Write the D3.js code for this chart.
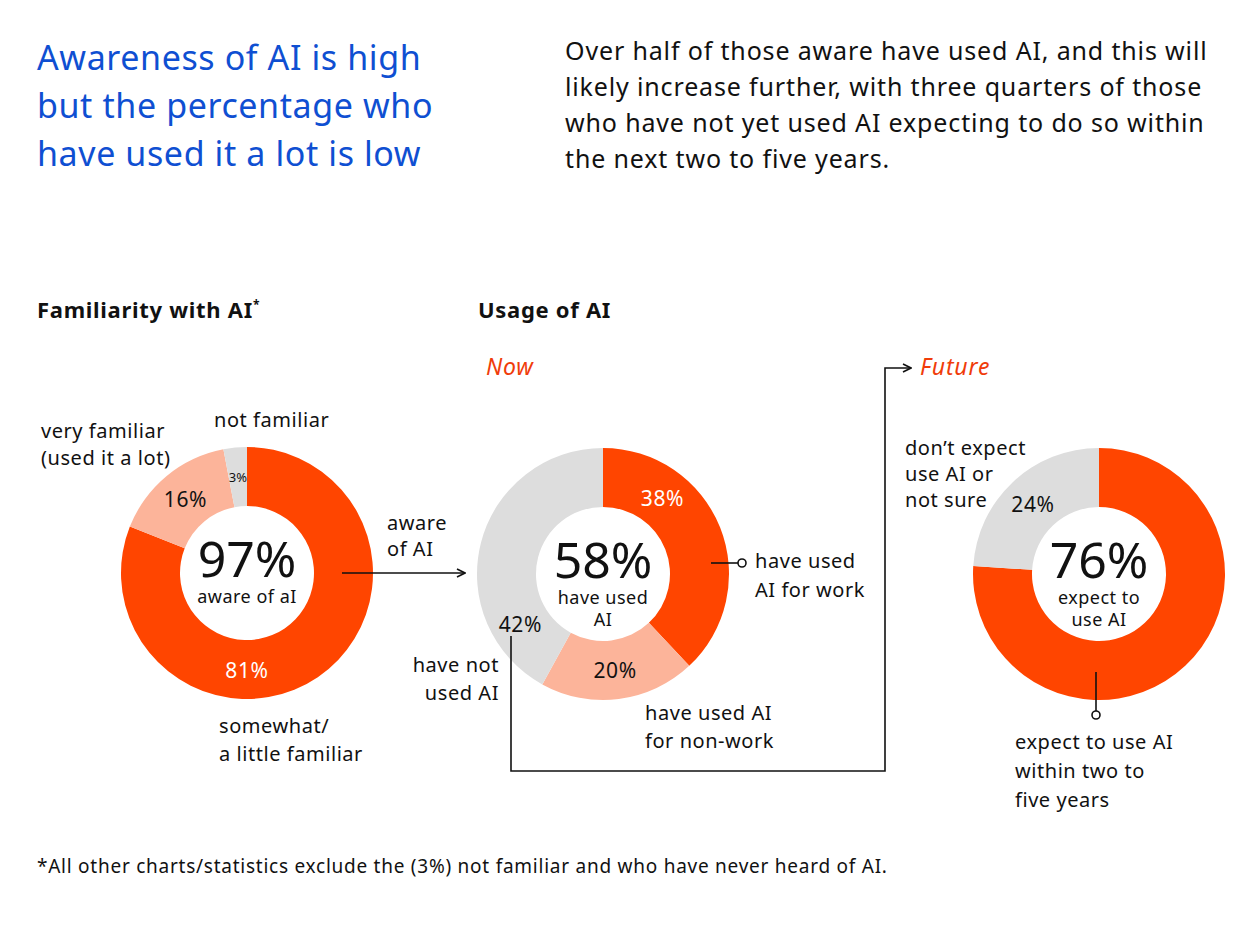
<!DOCTYPE html>
<html><head><meta charset="utf-8">
<script src="https://cdn.jsdelivr.net/npm/d3@7"></script>
<style>
html,body{margin:0;padding:0;background:#fff;}
svg{display:block;font-family:"Noto Sans",sans-serif;}
</style></head>
<body><svg id="c" width="1260" height="946"></svg>
<script>
// ---- data ----
const familiarityCategories = ["somewhat/a little familiar", "very familiar", "not familiar"];
const familiarityValues = [81, 16, 3];
const usageCategories = ["have used AI for work", "have used AI for non-work", "have not used AI"];
const usageValues = [38, 20, 42];
const futureCategories = ["expect to use AI", "don't expect use AI or not sure"];
const futureValues = [76, 24];

const titleLines = ["Awareness of AI is high", "but the percentage who", "have used it a lot is low"];
const introLines = ["Over half of those aware have used AI, and this will",
  "likely increase further, with three quarters of those",
  "who have not yet used AI expecting to do so within",
  "the next two to five years."];
const footnote = "*All other charts/statistics exclude the (3%) not familiar and who have never heard of AI.";

const RED = "#ff4500", SALMON = "#fcb49a", GREY = "#dddddd", BLUE = "#0f4fd2";

const svg = d3.select("#c");
const defs = svg.append("defs");
defs.append("marker").attr("id","arr").attr("viewBox","0 0 10 10").attr("refX",9).attr("refY",5)
  .attr("markerWidth",10).attr("markerHeight",10).attr("markerUnits","userSpaceOnUse").attr("orient","auto")
  .append("path").attr("d","M1,1 L9,5 L1,9").attr("fill","none").attr("stroke","#111").attr("stroke-width",1.6);

// titles
svg.append("text").attr("x",37).attr("y",70).attr("fill",BLUE).attr("font-size",34).attr("letter-spacing",0.6)
  .selectAll("tspan").data(titleLines).join("tspan").attr("x",37).attr("dy",(d,i)=>i?48:0).text(d=>d);
svg.append("text").attr("x",565).attr("y",60).attr("fill","#111").attr("font-size",25).attr("letter-spacing",0.85)
  .selectAll("tspan").data(introLines).join("tspan").attr("x",565).attr("dy",(d,i)=>i?36:0).text(d=>d);

const head = (x,y,t)=>svg.append("text").attr("x",x).attr("y",y).attr("font-size",22).attr("letter-spacing",0.7).attr("font-weight","bold").attr("fill","#111").text(t);
head(37,318,"Familiarity with AI").append("tspan").attr("dy",-9).attr("font-size",12).text("*");
head(478,318,"Usage of AI");
svg.append("text").attr("x",486).attr("y",375).attr("font-size",23).attr("letter-spacing",0.8).attr("font-style","italic").attr("fill","#f03c0a").text("Now");
svg.append("text").attr("x",920).attr("y",375).attr("font-size",23).attr("letter-spacing",0.8).attr("font-style","italic").attr("fill","#f03c0a").text("Future");

const R = 126, r = 67;
const pie = d3.pie().sort(null).value(d=>d);
const arc = d3.arc().innerRadius(r).outerRadius(R);

function donut(cx, cy, values, colors, labels, big, subLines) {
  const g = svg.append("g").attr("transform",`translate(${cx},${cy})`);
  const arcs = pie(values);
  g.selectAll("path").data(arcs).join("path").attr("d",arc).attr("fill",(d,i)=>colors[i]);
  const mid = (R + r) / 2;
  g.selectAll("text.pct").data(arcs.filter((d,i)=>labels[i])).join("text").attr("class","pct")
    .each(function(d){
      const L = labels[d.index];
      const a = (L.angle != null ? L.angle : (d.startAngle + d.endAngle)/2*180/Math.PI) * Math.PI/180;
      d3.select(this).attr("x", mid*Math.sin(a)).attr("y", -mid*Math.cos(a))
        .attr("text-anchor","middle").attr("dominant-baseline","central")
        .attr("font-size", L.size || 21).attr("letter-spacing", L.size ? 0 : 0.6).attr("fill", L.color)
        .text(values[d.index] + "%");
    });
  g.append("text").attr("text-anchor","middle").attr("y",4).attr("font-size",50).attr("fill","#111").text(big);
  g.append("text").attr("text-anchor","middle").attr("y",30).attr("font-size",18).attr("letter-spacing",0.5).attr("fill","#111")
    .selectAll("tspan").data(subLines).join("tspan").attr("x",0).attr("dy",(d,i)=>i?22:0).text(d=>d);
  return g;
}

const C1 = [247, 573], C2 = [603, 574], C3 = [1099, 574];
donut(C1[0], C1[1], familiarityValues, [RED, SALMON, GREY],
  [{angle:180,color:"#fff"},{color:"#111"},{color:"#111",size:13}], "97%", ["aware of aI"]);
donut(C2[0], C2[1], usageValues, [RED, SALMON, GREY],
  [{angle:38,color:"#fff"},{color:"#111"},{angle:239,color:"#111"}], "58%", ["have used","AI"]);
donut(C3[0], C3[1], futureValues, [RED, GREY],
  [null,{color:"#111"}], "76%", ["expect to","use AI"]);

// annotation text helper
function label(x, y, lines, anchor="start", size=20, lh=27) {
  svg.append("text").attr("x",x).attr("y",y).attr("font-size",size).attr("letter-spacing",0.55).attr("fill","#111").attr("text-anchor",anchor)
    .selectAll("tspan").data(lines).join("tspan").attr("x",x).attr("dy",(d,i)=>i?lh:0).text(d=>d);
}
label(41,438,["very familiar","(used it a lot)"]);
label(214,427,["not familiar"]);
label(219,733,["somewhat/","a little familiar"],"start",20,28);
label(387,530,["aware","of AI"],"start",20,26);
label(755,568,["have used","AI for work"],"start",20,29);
label(499,672,["have not","used AI"],"end",20,28);
label(645,720,["have used AI","for non-work"],"start",20,28);
label(905,455,["don\u2019t expect","use AI or","not sure"],"start",20,26);
label(1015,749,["expect to use AI","within two to","five years"],"start",20,29);
svg.append("text").attr("x",37).attr("y",873).attr("font-size",19).attr("letter-spacing",0.75).attr("fill","#111").text(footnote);

// connectors
const line = (pts, marker) => {
  const p = svg.append("path").attr("d", d3.line()(pts)).attr("fill","none").attr("stroke","#111").attr("stroke-width",1.6);
  if (marker) p.attr("marker-end","url(#arr)");
  return p;
};
line([[C1[0]+95, C1[1]], [465, C1[1]]], true);
line([[511, 636], [511, 771], [885, 771], [885, 368], [911, 368]], true);
line([[C2[0]+108, 563], [738, 563]]);
svg.append("circle").attr("cx",742).attr("cy",563).attr("r",4).attr("fill","#fff").attr("stroke","#111").attr("stroke-width",1.6);
line([[1096, 672], [1096, 711]]);
svg.append("circle").attr("cx",1096).attr("cy",715).attr("r",4).attr("fill","#fff").attr("stroke","#111").attr("stroke-width",1.6);
</script></body></html>
